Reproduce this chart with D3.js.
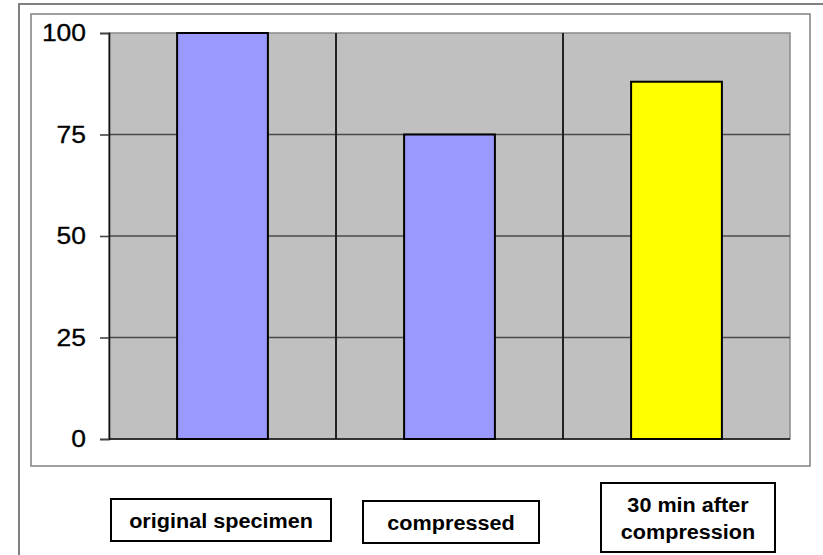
<!DOCTYPE html>
<html>
<head>
<meta charset="utf-8">
<script src="https://cdn.jsdelivr.net/npm/d3@7"></script>
<style>
  html, body { margin: 0; padding: 0; background: #fff; }
  svg { display: block; }
  text { font-family: "Liberation Sans", Arial, sans-serif; }
</style>
</head>
<body>
<svg id="chart" width="823" height="555"></svg>
<script>
// ---- data ----
const categories = ["original specimen", "compressed", "30 min after compression"];
const categoryLines = [["original specimen"], ["compressed"], ["30 min after", "compression"]];
const values = [100, 75, 88];
const barColors = ["#9999FF", "#9999FF", "#FFFF00"];
const yTicks = [0, 25, 50, 75, 100];

// ---- layout ----
const W = 823, H = 555;
const plot = { left: 109, right: 790, top: 33, bottom: 439 };
const labelBoxes = [
  { x0: 111, x1: 331, y0: 499, y1: 541 },
  { x0: 363, x1: 539, y0: 501, y1: 543 },
  { x0: 601, x1: 775, y0: 483, y1: 552 }
];

const svg = d3.select("#chart");

// outer frame (runs off the right and bottom edges)
svg.append("rect")
  .attr("x", 19).attr("y", 4).attr("width", 900).attr("height", 700)
  .attr("fill", "none").attr("stroke", "#808080").attr("stroke-width", 2);

// chart box
svg.append("rect")
  .attr("x", 31).attr("y", 14).attr("width", 810 - 31).attr("height", 466 - 14)
  .attr("fill", "#fff").attr("stroke", "#808080").attr("stroke-width", 1.5);

const x = d3.scaleBand().domain(categories).range([plot.left, plot.right]).padding(0);
const y = d3.scaleLinear().domain([0, 100]).range([plot.bottom, plot.top]);

// plot area
svg.append("rect")
  .attr("x", plot.left).attr("y", plot.top)
  .attr("width", plot.right - plot.left).attr("height", plot.bottom - plot.top)
  .attr("fill", "#C0C0C0").attr("stroke", "#8a8a8a").attr("stroke-width", 1.5);

// horizontal gridlines
svg.append("g").selectAll("line").data(yTicks.filter(d => d > 0 && d < 100)).join("line")
  .attr("x1", plot.left).attr("x2", plot.right)
  .attr("y1", d => y(d)).attr("y2", d => y(d))
  .attr("stroke", "#4a4a4a").attr("stroke-width", 1.6);

// vertical category separators
svg.append("g").selectAll("line").data(categories.slice(1)).join("line")
  .attr("x1", d => x(d)).attr("x2", d => x(d))
  .attr("y1", plot.top).attr("y2", plot.bottom)
  .attr("stroke", "#222").attr("stroke-width", 2);

// y axis with d3
const yAxis = d3.axisLeft(y).tickValues(yTicks).tickSize(9).tickFormat("");
const gy = svg.append("g").attr("transform", `translate(${plot.left},0)`).call(yAxis);
gy.select(".domain").attr("stroke", "#111").attr("stroke-width", 1.6);
gy.selectAll(".tick line").attr("stroke", "#444").attr("stroke-width", 1.6);

// y tick labels (stretched horizontally)
svg.append("g").selectAll("text").data(yTicks).join("text")
  .attr("transform", d => `translate(86,${y(d) + 8}) scale(1.15,1)`)
  .attr("text-anchor", "end")
  .attr("font-size", 23)
  .attr("fill", "#000")
  .attr("stroke", "#000").attr("stroke-width", 0.3)
  .text(d => d);

// x axis line
svg.append("line")
  .attr("x1", plot.left).attr("x2", plot.right)
  .attr("y1", y(0)).attr("y2", y(0))
  .attr("stroke", "#111").attr("stroke-width", 1.6);

// bars
const bw = x.bandwidth() * 0.4;
svg.append("g").selectAll("rect").data(values).join("rect")
  .attr("x", (d, i) => x(categories[i]) + (x.bandwidth() - bw) / 2)
  .attr("y", d => y(d))
  .attr("width", bw)
  .attr("height", d => y(0) - y(d))
  .attr("fill", (d, i) => barColors[i])
  .attr("stroke", "#000").attr("stroke-width", 2);

// category label boxes
const lg = svg.append("g");
labelBoxes.forEach((b, i) => {
  lg.append("rect")
    .attr("x", b.x0).attr("y", b.y0).attr("width", b.x1 - b.x0).attr("height", b.y1 - b.y0)
    .attr("fill", "#fff").attr("stroke", "#000").attr("stroke-width", 2);
  const lines = categoryLines[i];
  const cx = (b.x0 + b.x1) / 2, cy = (b.y0 + b.y1) / 2;
  const lh = 27;
  lines.forEach((t, j) => {
    const ty = cy + (j - (lines.length - 1) / 2) * lh + 7.5;
    lg.append("text")
      .attr("transform", `translate(${cx},${ty}) scale(1.03,1)`)
      .attr("text-anchor", "middle")
      .attr("font-size", 21).attr("font-weight", "bold")
      .attr("fill", "#000")
      .text(t);
  });
});
</script>
</body>
</html>
